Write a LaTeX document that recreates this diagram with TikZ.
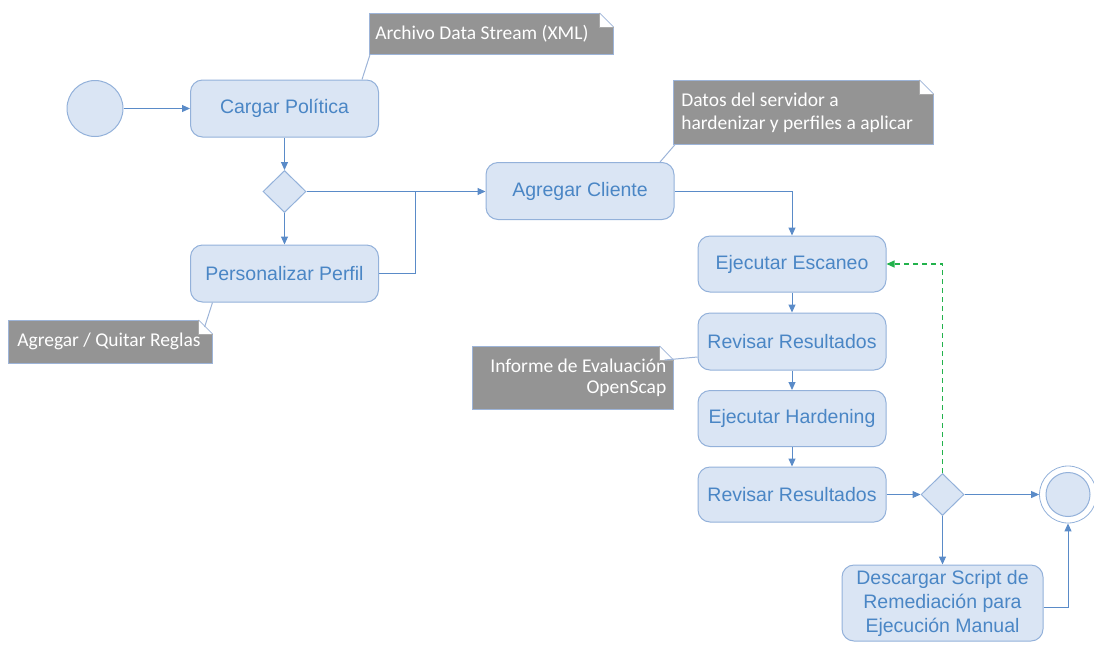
\documentclass[tikz,border=0pt]{standalone}
\usepackage{fontspec}
\setmainfont{Liberation Sans}
\newfontfamily\notefont{Carlito}
\usetikzlibrary{arrows.meta,shapes.geometric,calc}
\definecolor{boxfill}{HTML}{DAE5F4}
\definecolor{boxline}{HTML}{93B1DA}
\definecolor{boxtext}{HTML}{4A86C5}
\definecolor{arrowc}{HTML}{5A8BC8}
\definecolor{notefill}{HTML}{949494}
\definecolor{noteline}{HTML}{9DB4D8}
\definecolor{greenc}{HTML}{22B24C}
\newcommand\notefold[1]{%
  \fill[white] ([xshift=-14pt,yshift=1pt]#1.north east) rectangle ([xshift=1pt,yshift=-14pt]#1.north east);
  \draw[noteline,line width=0.8pt] ([xshift=-14pt]#1.north east) -- ([yshift=-14pt]#1.north east);
  \draw[notefill!80!white,line width=0.6pt] ([xshift=-14pt]#1.north east) -- ([xshift=-14pt,yshift=-14pt]#1.north east) -- ([yshift=-14pt]#1.north east);
}
\tikzset{
  act/.style={rectangle, rounded corners=12pt, draw=boxline, line width=1pt, fill=boxfill,
    text=boxtext, font=\fontsize{19.5}{24}\selectfont, minimum width=188pt, minimum height=57pt,
    align=center, inner sep=0pt},
  gate/.style={diamond, draw=boxline, line width=1pt, fill=boxfill, minimum width=43pt,
    minimum height=42pt, inner sep=0pt},
  note/.style={rectangle, fill=notefill, draw=noteline, line width=0.6pt, text=white,
    font=\notefont\fontsize{19.5}{23}\selectfont, inner ysep=0pt, anchor=north west},
  flow/.style={draw=arrowc, line width=1pt, -{Triangle[length=8pt,width=7pt]}},
  plain/.style={draw=arrowc, line width=1pt},
  greenflow/.style={draw=greenc, line width=1.1pt, dashed, dash pattern=on 5pt off 4pt,
    -{Triangle[length=8pt,width=7pt]}},
  noteconn/.style={draw=noteline, line width=1pt},
}
\begin{document}
\begin{tikzpicture}[x=1pt,y=-1pt]
\useasboundingbox (0,0) rectangle (1094,646);

% nodes
\node[circle, draw=boxline, line width=1pt, fill=boxfill, minimum size=56pt, inner sep=0pt] (start) at (95,108.5) {};
\node[act] (cargar) at (284.5,108.5) {Cargar Política};
\node[gate] (d1) at (284.5,191.5) {};
\node[act] (perso) at (284.5,273.5) {Personalizar Perfil};
\node[act] (agregar) at (580,191) {Agregar Cliente};
\node[act, minimum height=56pt] (es) at (792,264) {Ejecutar Escaneo};
\node[act] (rr1) at (792,341.5) {Revisar Resultados};
\node[act, minimum height=56pt] (eh) at (792,418.5) {Ejecutar Hardening};
\node[act, minimum height=55pt] (rr2) at (792,494.5) {Revisar Resultados};
\node[gate] (d2) at (942.5,494.5) {};
\node[act, minimum width=201pt, minimum height=76pt] (desc) at (942.5,603) {Descargar Script de\\Remediación para\\Ejecución Manual};
\node[circle, draw=boxline, line width=0.8pt, fill=white, minimum size=57pt, inner sep=0pt] (endo) at (1068,494.5) {};
\node[circle, draw=boxline, line width=1pt, fill=boxfill, minimum size=44pt, inner sep=0pt] (endi) at (1068,494.5) {};

% notes
\node[note, minimum width=244pt, minimum height=41pt, text width=232pt, inner xsep=6pt, align=flush left] (n1) at (369,13) {Archivo Data Stream (XML)};
\notefold{n1}
\node[note, minimum width=260pt, minimum height=64pt, text width=244pt, inner xsep=8pt, align=flush left] (n3) at (673,80) {Datos del servidor a\\hardenizar y perfiles a aplicar};
\notefold{n3}
\node[note, minimum width=204pt, minimum height=43pt, text width=192pt, inner xsep=6pt, align=flush left] (n2) at (8,320) {\hspace*{3pt}Agregar / Quitar Reglas};
\notefold{n2}
\node[note, minimum width=201pt, minimum height=63pt, text width=187pt, inner xsep=7pt, align=flush right, font=\notefont\fontsize{19.5}{21}\selectfont] (n4) at (472,346) {Informe de Evaluación\\OpenScap};
\notefold{n4}

% note connectors
\draw[noteconn] ([xshift=77.5pt]cargar.north) -- ([xshift=1pt]n1.south west);
\draw[noteconn] ([xshift=80pt]agregar.north) -- ([xshift=2pt]n3.south west);
\draw[noteconn] ([xshift=-72pt]perso.south) -- ([xshift=-8pt,yshift=-7pt]n2.north east);
\draw[noteconn] ([yshift=-15.5pt]rr1.west) -- ([xshift=-9pt,yshift=-14pt]n4.north east);

% flow
\coordinate (j1) at (415,191.5);
\draw[flow] (start) -- (cargar);
\draw[flow] (cargar) -- (d1);
\draw[flow] (d1.east) -- (d1.east -| agregar.west);
\draw[flow] (d1) -- (perso);
\draw[plain] (perso.east) -| (j1);
\draw[flow] (agregar.east) -| (es.north);
\draw[flow] (es) -- (rr1);
\draw[flow] (rr1) -- (eh);
\draw[flow] (eh) -- (rr2);
\draw[flow] (rr2) -- (d2);
\draw[flow] (d2) -- (endo);
\draw[flow] (d2) -- (desc);
\draw[flow] ([yshift=-4pt]desc.east) -| (endo.south);
\draw[greenflow] (d2.north) |- (es.east);
\end{tikzpicture}
\end{document}
